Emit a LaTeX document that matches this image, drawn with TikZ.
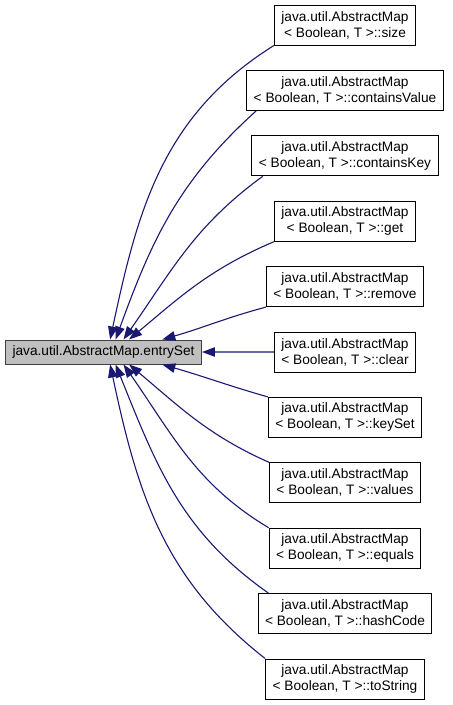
\documentclass[tikz,border=0pt]{standalone}
\usepackage{fontspec}
\setmainfont{Liberation Sans}
\usetikzlibrary{arrows.meta}

\definecolor{edgeblue}{HTML}{191970}
\definecolor{focusfill}{HTML}{BFBFBF}
\definecolor{focusline}{HTML}{404040}

\begin{document}
\begin{tikzpicture}[x=1pt,y=-1pt,>={Triangle[length=13pt,width=9.5pt]},
  every node/.style={font=\fontsize{13.7}{16}\selectfont},
  focus/.style={draw=focusline,fill=focusfill,line width=1pt,inner xsep=7pt,inner ysep=2pt,minimum height=24pt},
  member/.style={draw=black,fill=white,line width=1pt,align=center,inner xsep=7pt,inner ysep=2pt,minimum height=40pt},
  edge/.style={->,draw=edgeblue,line width=1.1pt}]
  \useasboundingbox (0,0) rectangle (453,705);
  \node[focus] (entry) at (103.5,352) {java.util.AbstractMap.entrySet};
  \foreach \nm/\meth [count=\k from 0] in {size/size,cvalue/containsValue,ckey/containsKey,get/get,remove/remove,clear/clear,keyset/keySet,values/values,equals/equals,hash/hashCode,tostr/toString} {
    \node[member] (\nm) at (345,25+65.4*\k) {java.util.AbstractMap\\< Boolean, T >::\meth};
  }
  \foreach \nm/\sa/\ao/\ai/\ea in {size/south west/212/78/62,cvalue/193/222/70/46,ckey/194/216/55/32,get/south west/203/40/26,remove/south west/195/16/12,clear/west/180/0/0,keyset/north west/164/-16/-12,values/north west/156/-40/-26,equals/north west/149/-55/-32,hash/165/145/-68/-46,tostr/north west/142/-78/-62} {
    \draw[edge] (\nm.\sa) to[out=\ao,in=\ai] (entry.\ea);
  }
\end{tikzpicture}
\end{document}
